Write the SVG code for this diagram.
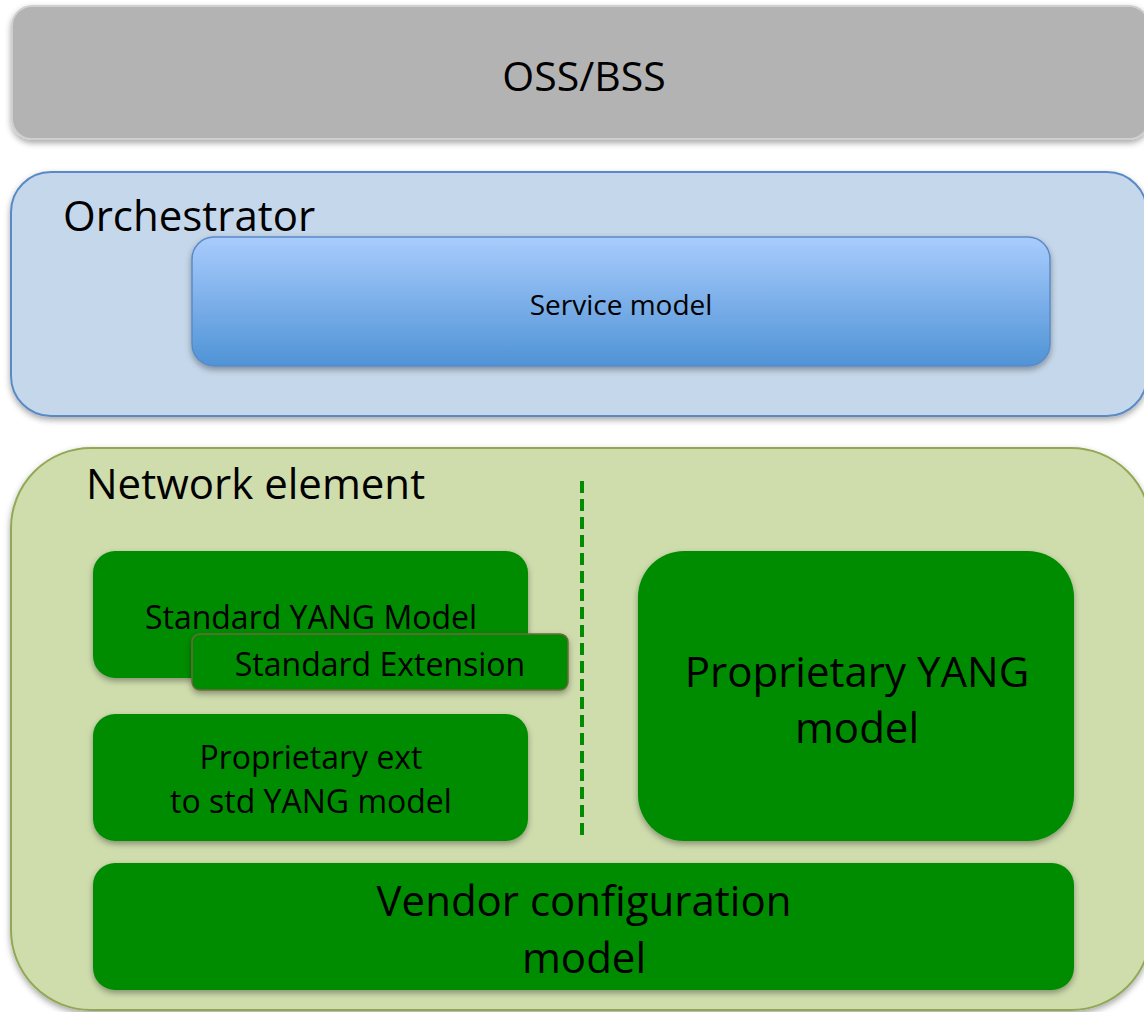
<svg xmlns="http://www.w3.org/2000/svg" width="1144" height="1012" viewBox="0 0 1144 1012">
<style>
text{font-family:"Open Sans","Noto Sans","Liberation Sans",sans-serif;fill:#000}
.big{font-size:42px}
.mid{font-size:32px}
.sm{font-size:28px}
.g{fill:#008c00}
</style>
<defs>
<filter id="sh" x="-10%" y="-10%" width="120%" height="130%">
<feDropShadow dx="0" dy="3" stdDeviation="3" flood-color="#000" flood-opacity="0.35"/>
</filter>
<linearGradient id="blue" x1="0" y1="0" x2="0" y2="1">
<stop offset="0" stop-color="#a9ccfd"/>
<stop offset="1" stop-color="#4f93d6"/>
</linearGradient>
</defs>
<rect width="1144" height="1012" fill="#fff"/>
<g id="oss">
<rect x="12" y="6" width="1137" height="133" rx="20" fill="#b3b3b3" stroke="#cfcfcf" stroke-width="2" filter="url(#sh)"/>
<text x="584" y="91" text-anchor="middle" style="font-size:41px">OSS/BSS</text>
</g>
<g id="orchestrator">
<rect x="11" y="172" width="1136" height="244" rx="40" fill="#c5d7ea" stroke="#5a8ac6" stroke-width="2" filter="url(#sh)"/>
<text x="63" y="231" class="big">Orchestrator</text>
</g>
<g id="service-model">
<rect x="192" y="237" width="858" height="129" rx="22" fill="url(#blue)" stroke="#5a8ac6" stroke-width="1.5" filter="url(#sh)"/>
<text x="621" y="315" text-anchor="middle" class="sm">Service model</text>
</g>
<g id="network-element">
<rect x="11" y="448" width="1140" height="562" rx="80" fill="#cfddad" stroke="#93a855" stroke-width="2" filter="url(#sh)"/>
<text x="86" y="499" class="big">Network element</text>
</g>
<g id="connectors">
<line x1="582" y1="481" x2="582" y2="838" stroke="#008c00" stroke-width="4" stroke-dasharray="12,6"/>
</g>
<g id="standard-yang">
<rect x="93" y="551" width="435" height="127" rx="22" class="g" filter="url(#sh)"/>
<text x="311" y="629" text-anchor="middle" class="mid">Standard YANG Model</text>
</g>
<g id="standard-extension">
<rect x="192" y="634" width="376" height="56" rx="8" class="g" stroke="#6b6b3a" stroke-width="1.5" filter="url(#sh)"/>
<text x="380" y="676" text-anchor="middle" class="mid">Standard Extension</text>
</g>
<g id="proprietary-ext">
<rect x="93" y="714" width="435" height="127" rx="22" class="g" filter="url(#sh)"/>
<text x="311" y="769" text-anchor="middle" class="mid">Proprietary ext</text>
<text x="311" y="813" text-anchor="middle" class="mid">to std YANG model</text>
</g>
<g id="proprietary-yang">
<rect x="638" y="551" width="436" height="290" rx="46" class="g" filter="url(#sh)"/>
<text x="857" y="687" text-anchor="middle" class="big">Proprietary YANG</text>
<text x="857" y="743" text-anchor="middle" class="big">model</text>
</g>
<g id="vendor-config">
<rect x="93" y="863" width="981" height="127" rx="22" class="g" filter="url(#sh)"/>
<text x="584" y="916" text-anchor="middle" class="big">Vendor configuration</text>
<text x="584" y="973" text-anchor="middle" class="big">model</text>
</g>
</svg>
